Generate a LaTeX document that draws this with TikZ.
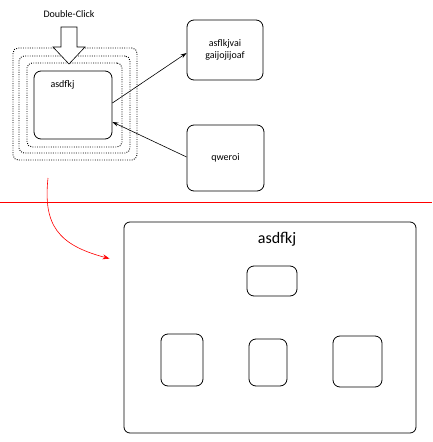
\documentclass[tikz,border=0pt]{standalone}
\usepackage{fontspec}
\setmainfont{Carlito}
\usetikzlibrary{arrows.meta}
\begin{document}
\begin{tikzpicture}[x=1pt,y=-1pt,
  rbox/.style={draw,thick,rounded corners=7pt,inner sep=0pt},
  dframe/.style={draw,line width=0.9pt,dash pattern=on 0.9pt off 1.4pt,rounded corners=5pt,inner sep=0pt},
  conn/.style={semithick,-{Stealth[length=6pt,width=4pt]}},
  redconn/.style={red,semithick,-{Stealth[length=7pt,width=5pt]}},
  lbl/.style={font=\fontsize{10}{12}\selectfont}]
\useasboundingbox (0,0) rectangle (432,442);
% dotted frames
\node[dframe,minimum width=124pt,minimum height=112pt] (f1) at (75,104) {};
\node[dframe,minimum width=111pt,minimum height=97pt] (f2) at (74.5,104.5) {};
\node[dframe,minimum width=95pt,minimum height=84pt] (f3) at (74.5,105) {};
% main box
\node[rbox,fill=white,minimum width=78pt,minimum height=68pt] (main) at (73,105) {};
\node[lbl,anchor=west] (mainlbl) at (47,85) {asdfkj};
% double click arrow
\node[lbl] (dc) at (69,14) {Double-Click};
\draw[semithick,fill=white] (61,27) -- (77,27) -- (77,47) -- (85,47) -- (69,64) -- (53,47) -- (61,47) -- cycle;
% right boxes
\node[rbox,minimum width=76pt,minimum height=60pt,align=center,lbl] (top) at (225,50) {asflkjvai\\gaijojijoaf};
\node[rbox,minimum width=77pt,minimum height=66pt,lbl] (bot) at (225.5,158) {qweroi};
\draw[conn] ([yshift=2pt]main.east) -- ([yshift=-3pt]top.west);
\draw[conn] ([yshift=1pt]bot.west) -- ([yshift=-17pt]main.east);
% red line
\coordinate (rl) at (0,202);
\coordinate (rr) at (432,202);
\draw[red,thick] (rl) -- (rr);
% big box
\node[rbox,minimum width=292pt,minimum height=211pt,rounded corners=6pt] (big) at (270,327.5) {};
\node[font=\fontsize{16}{18}\selectfont] (bigttl) at (277,239) {asdfkj};
\node[rbox,minimum width=50pt,minimum height=30pt] (s1) at (272,281) {};
\node[rbox,minimum width=42pt,minimum height=52pt] (s2) at (182,360) {};
\node[rbox,minimum width=38pt,minimum height=47pt] (s3) at (268,362.5) {};
\node[rbox,minimum width=49pt,minimum height=51pt] (s4) at (357.5,361.5) {};
% red curve
\coordinate (rs) at (48,178);
\draw[redconn] (rs) .. controls (43,225) and (58,245) .. ([xshift=-14pt,yshift=-37pt]big.north west);
\end{tikzpicture}
\end{document}
